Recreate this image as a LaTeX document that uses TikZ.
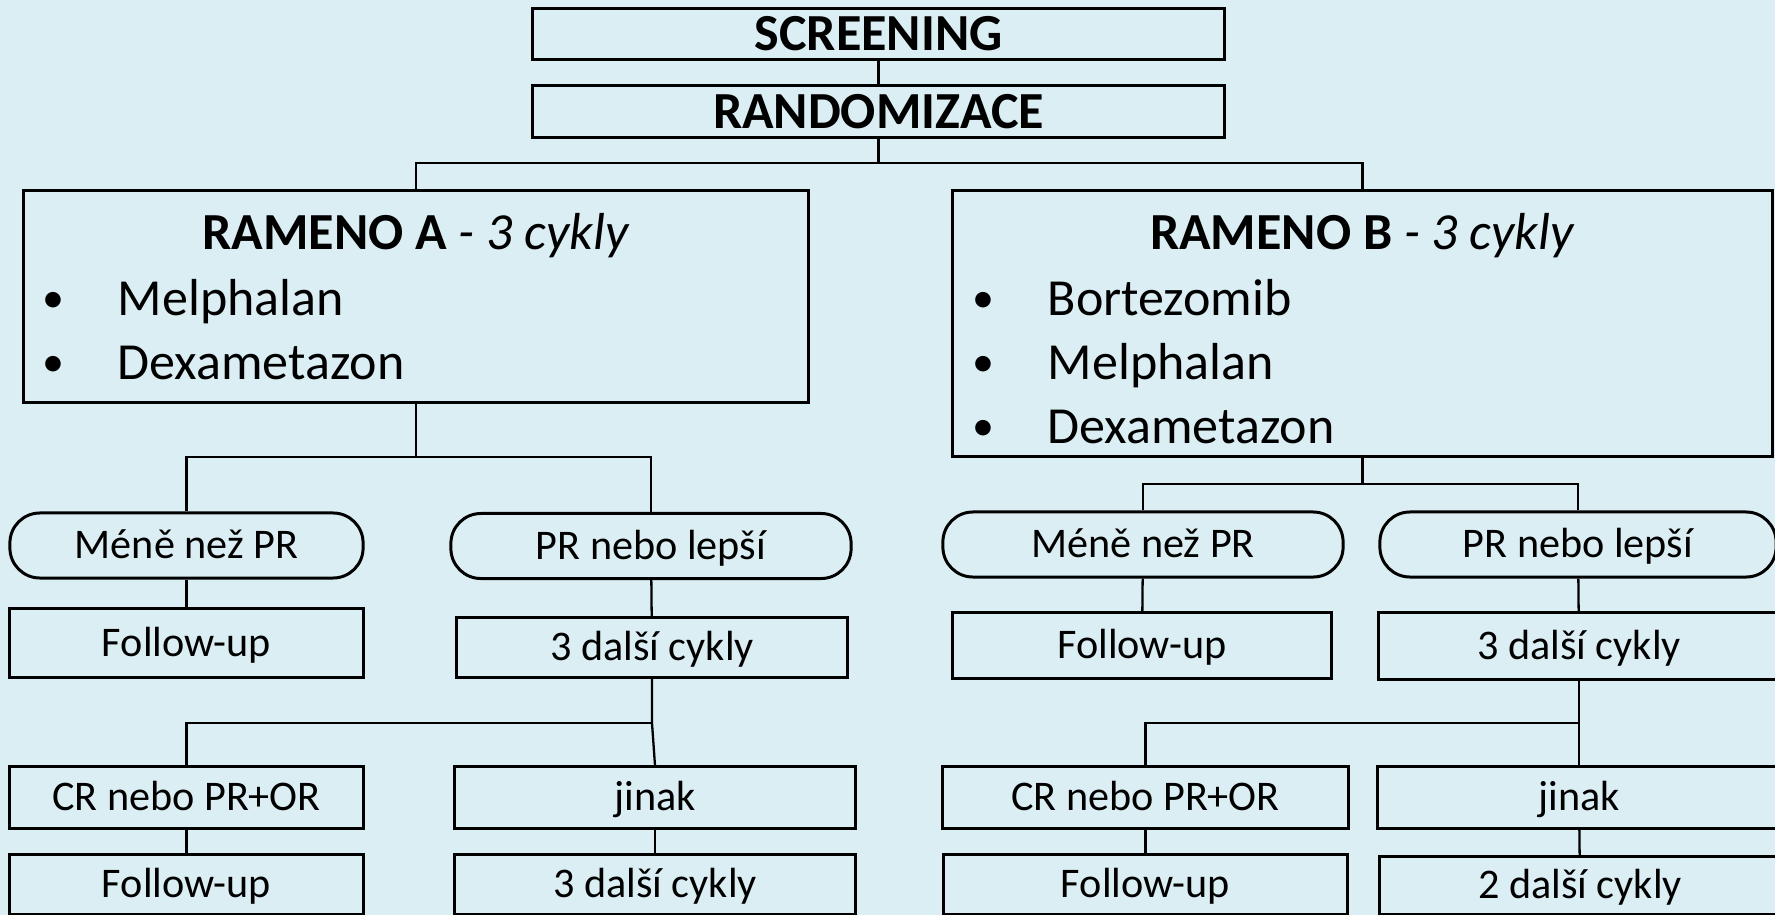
\documentclass[tikz,border=0pt]{standalone}
\usepackage{fontspec}
\setmainfont{Carlito}
\definecolor{bgblue}{RGB}{219,238,243}

\begin{document}
\begin{tikzpicture}[x=0.01cm,y=-0.01cm,
    topbox/.style={draw,line width=0.85pt,inner sep=0pt,minimum width=6.91cm,minimum height=0.5cm,
      font=\fontsize{14.8}{17}\selectfont\bfseries,text height=0.33cm,text depth=0cm},
    armbox/.style={draw,line width=0.85pt,inner sep=0pt},
    armtext/.style={inner sep=0pt,font=\fontsize{14.8}{17}\selectfont},
    armdot/.style={inner sep=0pt,font=\fontsize{12.5}{14}\selectfont,anchor=base},
    answer/.style={draw,line width=0.85pt,rounded corners=0.3cm,inner sep=0pt,minimum height=0.65cm,
      font=\fontsize{12}{14}\selectfont,text height=0.265cm,text depth=0cm},
    stepbox/.style={draw,line width=0.85pt,inner sep=0pt,
      font=\fontsize{12}{14}\selectfont,text height=0.265cm,text depth=0cm},
    link/.style={line width=0.65pt}]
        \useasboundingbox (0,0) rectangle (1775,915);
        \fill [bgblue] (0,0) rectangle (1775,915);
        \clip (0,0) rectangle (1775,915); % Right column runs off the page.

        \node [topbox] (scr) at (878.5,34) {SCREENING};
        \node [topbox,minimum height=0.51cm] (rnd) at (878.5,111.5) {RANDOMIZACE};

        \node [armbox,minimum width=7.84cm,minimum height=2.11cm] (armA) at (416,296.5) {};
        \node [armbox,minimum width=8.19cm,minimum height=2.65cm] (armB) at (1362.5,323.5) {};

        \node [armtext,anchor=base] (titA) at (416,249) {\textbf{RAMENO A} \textit{- 3 cykly}};
        \node [armdot] (dotA1) at (53,312) {•};
        \node [armtext,anchor=base west] (drugA1) at (117,315) {Melphalan};
        \node [armdot] (dotA2) at (53,376) {•};
        \node [armtext,anchor=base west] (drugA2) at (117,379) {Dexametazon};

        \node [armtext,anchor=base] (titB) at (1362.5,249) {\textbf{RAMENO B} \textit{- 3 cykly}};
        \node [armdot] (dotB1) at (983,312) {•};
        \node [armtext,anchor=base west] (drugB1) at (1047,315) {Bortezomib};
        \node [armdot] (dotB2) at (983,376) {•};
        \node [armtext,anchor=base west] (drugB2) at (1047,379) {Melphalan};
        \node [armdot] (dotB3) at (983,440) {•};
        \node [armtext,anchor=base west] (drugB3) at (1047,443) {Dexametazon};

        % Arm A.
        \node [answer,minimum width=3.53cm] (lessA) at (186.5,545.5) {Méně než PR};
        \node [answer,minimum width=4.00cm] (betterA) at (651,546) {PR nebo lepší};
        \node [stepbox,minimum width=3.53cm,minimum height=0.68cm] (followA) at (186.5,643) {Follow-up};
        \node [stepbox,minimum width=3.90cm,minimum height=0.59cm] (moreA) at (652,647.5) {3 další cykly};
        \node [stepbox,minimum width=3.53cm,minimum height=0.61cm] (crA) at (186.5,797.5) {CR nebo PR+OR};
        \node [stepbox,minimum width=4.00cm,minimum height=0.61cm] (elseA) at (655,797.5) {jinak};
        \node [stepbox,minimum width=3.53cm,minimum height=0.59cm] (endA) at (186.5,884.5) {Follow-up};
        \node [stepbox,minimum width=4.00cm,minimum height=0.59cm] (lastA) at (655,884.5) {3 další cykly};

        % Arm B.
        \node [answer,minimum width=4.00cm] (lessB) at (1143,544.5) {Méně než PR};
        \node [answer,minimum width=3.96cm] (betterB) at (1578,544.5) {PR nebo lepší};
        \node [stepbox,minimum width=3.78cm,minimum height=0.65cm] (followB) at (1142,645.5) {Follow-up};
        \node [stepbox,minimum width=4.00cm,minimum height=0.66cm] (moreB) at (1579,646) {3 další cykly};
        \node [stepbox,minimum width=4.05cm,minimum height=0.61cm] (crB) at (1145.5,797.5) {CR nebo PR+OR};
        \node [stepbox,minimum width=4.02cm,minimum height=0.61cm] (elseB) at (1579,797.5) {jinak};
        \node [stepbox,minimum width=4.03cm,minimum height=0.59cm] (endB) at (1145.5,884.5) {Follow-up};
        \node [stepbox,minimum width=4.00cm,minimum height=0.57cm] (lastB) at (1580,885.5) {2 další cykly};

        \coordinate (splitTop) at (878.5,163);
        \coordinate (splitA) at (416,457);
        \coordinate (splitA2) at (652,723);
        \coordinate (splitB) at (1362.5,484);
        \coordinate (splitB2) at (1579,723);

        \draw [link] (scr) -- (rnd);
        \draw [link] (rnd.south) -- (splitTop);
        \draw [link] (armA.north) |- (splitTop) -| (armB.north);

        \draw [link] (armA.south) -- (splitA);
        \draw [link] (lessA.north) |- (splitA) -| (betterA.north);
        \draw [link] (lessA) -- (followA);
        \draw [link] (betterA) -- (moreA);
        \draw [link] (moreA.south) -- (splitA2) -- (elseA.north);
        \draw [link] (splitA2) -| (crA.north);
        \draw [link] (crA) -- (endA);
        \draw [link] (elseA) -- (lastA);

        \draw [link] (armB.south) -- (splitB);
        \draw [link] (lessB.north) |- (splitB) -| (betterB.north);
        \draw [link] (lessB) -- (followB);
        \draw [link] (betterB) -- (moreB);
        \draw [link] (moreB.south) -- (splitB2) -- (elseB.north);
        \draw [link] (splitB2) -| (crB.north);
        \draw [link] (crB) -- (endB);
        \draw [link] (elseB) -- (lastB);
      \end{tikzpicture}
\end{document}
